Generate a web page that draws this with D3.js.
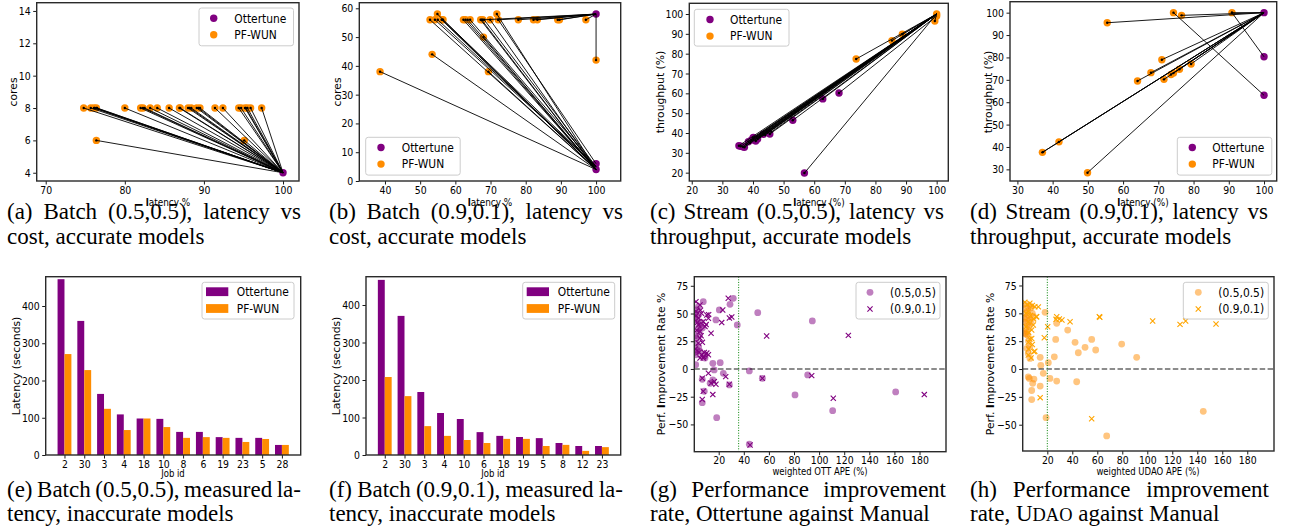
<!DOCTYPE html>
<html><head><meta charset="utf-8">
<script src="https://cdn.jsdelivr.net/npm/d3@7"></script>
<style>body{margin:0;background:#fff}svg{display:block}</style>
</head><body>
<svg id="c" width="1291" height="527"></svg>
<script>
// ---------------- DATA ----------------
// (a) Batch (0.5,0.5): latency % vs cores
const aOttLatency = [100];
const aOttCores = [4];
const aPfLatency = [74.8,75.7,76.1,76.4,80.0,82.0,82.3,83.2,84.1,85.6,86.9,87.0,88.0,88.4,89.1,89.5,91.4,92.4,94.4,94.7,95.2,95.5,95.9,97.3,76.4,95.1];
const aPfCores   = [8,8,8,8,8,8,8,8,8,8,8,8,8,8,8,8,8,8,8,8,8,8,8,8,6,6];
const aLinkFromLatency = [74.8,75.7,76.1,76.4,76.2,76.5,80.0,82.0,82.3,82.5,83.2,84.1,85.6,86.9,87.0,88.0,88.2,88.4,89.1,89.3,89.5,91.4,92.4,94.4,94.7,95.2,95.3,95.5,95.9,97.3,76.4,95.1];
const aLinkFromCores   = [8,8,8,8,8,8,8,8,8,8,8,8,8,8,8,8,8,8,8,8,8,8,8,8,8,8,8,8,8,8,6,6];
const aLinkToLatency = [100,100,100,100,100,100,100,100,100,100,100,100,100,100,100,100,100,100,100,100,100,100,100,100,100,100,100,100,100,100,100,100];
const aLinkToCores   = [4,4,4,4,4,4,4,4,4,4,4,4,4,4,4,4,4,4,4,4,4,4,4,4,4,4,4,4,4,4,4,4];

// (b) Batch (0.9,0.1): latency % vs cores
const bOttLatency = [100,100,100];
const bOttCores = [58,6,4];
const bPfLatency = [38.6,53.4,52.8,54.2,54.9,56.1,56.5,62.3,62.9,64.2,67.2,67.8,68.0,69.4,69.9,71.8,72.2,77.9,82.2,83.3,89.1,89.6,97.1,100];
const bPfCores   = [38,44,56,56,58,56,56,56,56,56,56,56,50,38,56,58,56,56,56,56,56,56,56,42];
const bLinkFromLatency = [38.6,53.4,52.8,54.2,54.9,56.1,56.5,62.3,62.9,64.2,67.2,67.8,68.0,69.4,69.9,71.8,72.2,77.9,82.2,83.3,89.1,89.6,97.1,100,67.5,68.2,72.2,56.3,55.0,63.5];
const bLinkFromCores   = [38,44,56,56,58,56,56,56,56,56,56,56,50,38,56,58,56,56,56,56,56,56,56,42,56,56,56,56,56,56];
const bLinkToLatency = [100,100,100,100,100,100,100,100,100,100,100,100,100,100,100,100,100,100,100,100,100,100,100,100,100,100,100,100,100,100];
const bLinkToCores   = [4,4,4,5,4,4,5,4,4,5,4,58,4,4,4,4,6,58,58,58,58,58,58,58,4,5,58,4,5,4];

// (c) Stream (0.5,0.5): latency (%) vs throughput (%)
const cOttLatency    = [35.4,36.7,38.5,40.1,40.9,43.4,44.8,45.5,53.0,62.8,68.1,56.8,37.2,39.5,36.0,41.5];
const cOttThroughput = [33.6,33.1,35.6,37.8,36.0,39.4,40.2,39.5,46.4,57.2,60.2,19.8,32.8,36.5,33.3,37.0];
const cPfLatency    = [73.7,85.4,88.8,99.4,100,100];
const cPfThroughput = [77.3,86.6,89.8,96.5,100,99];
const cLinkFromLatency    = [35.4,36.7,38.5,40.1,40.9,43.4,44.8,45.5,53.0,62.8,68.1,56.8,37.2,39.5,36.0,41.5,37.8,39.0,42.2,44.0,46.0,73.7,85.4,88.8,99.4];
const cLinkFromThroughput = [33.6,33.1,35.6,37.8,36.0,39.4,40.2,39.5,46.4,57.2,60.2,19.8,32.8,36.5,33.3,37.0,34.2,35.0,38.2,39.0,40.5,77.3,86.6,89.8,96.5];
const cLinkToLatency    = [100,100,100,100,100,100,100,100,100,100,100,100,100,100,100,100,100,100,100,100,100,100,100,100,100];
const cLinkToThroughput = [100,100,100,100,100,100,100,100,100,100,99,100,100,100,100,100,100,100,100,100,100,100,100,100,100];

// (d) Stream (0.9,0.1): latency (%) vs throughput (%)
const dOttLatency    = [100,100,100];
const dOttThroughput = [100,80.3,63.1];
const dPfLatency    = [55.5,74.3,76.6,90.9,71.0,67.9,64.1,71.6,73.6,74.3,76.0,79.3,37.1,41.8,49.9];
const dPfThroughput = [95.5,100,98.8,100,79.0,73.2,69.5,70.2,72.4,73.0,74.7,77.1,37.6,42.3,28.5];
const dLinkFromLatency    = [55.5,74.3,76.6,90.9,71.0,67.9,64.1,71.6,73.6,74.3,76.0,79.3,37.1,41.8,49.9,37.3,90.9];
const dLinkFromThroughput = [95.5,100,98.8,100,79.0,73.2,69.5,70.2,72.4,73.0,74.7,77.1,37.6,42.3,28.5,37.8,100];
const dLinkToLatency    = [100,100,100,100,100,100,100,100,100,100,100,100,100,100,100,100,100];
const dLinkToThroughput = [100,63.1,100,80.3,100,100,100,100,100,100,100,100,100,100,100,100,100];

// (e) Batch (0.5,0.5) measured latency
const eJobs = ["2","30","3","4","18","10","8","6","19","23","5","28"];
const eOttertune = [472,360,164,109,98,97,62,62,48,46,46,27];
const ePfWun     = [271,228,124,67,98,75,46,48,46,35,43,27];

// (f) Batch (0.9,0.1) measured latency
const fJobs = ["2","30","3","4","10","6","18","19","5","8","12","23"];
const fOttertune = [467,371,168,112,96,61,51,48,45,32,24,24];
const fPfWun     = [208,157,77,51,40,32,43,43,24,27,11,21];

// (g) Ottertune against Manual
const gApe55  = [7.7,31.6,29,20.5,17.8,34.8,51.1,94.6,21.2,15.3,1.7,16.4,23.7,44.4,28.5,15.3,13.2,6.9,6.9,8.5,18.4,44.4,54.8,90.9,80.8,110.8,161,2.6,9.1,2.6,3.8,2.6,5.1,3.8,1.9,5.1,1.9,9.1,3.8,1.5,1.2,1.5,2.0,6.0,4.5,1.0,7.0,4.0];
const gRate55 = [60.7,63.7,58.3,53.2,44.2,39.7,50.8,43.3,5.7,5.1,3.9,-0.9,-3.9,-1.8,-14.4,-9.9,-12.9,-9.3,-30.4,-20.1,-43.9,-67.9,-8.4,-5.4,-23.4,-37.6,-20.7,17.1,12,53.2,48.7,44.2,39.7,36.7,23.3,15.9,12.8,9.8,56.2,50,45,30,28,42,33,15,37,20];
const gApe91  = [27.6,23.2,22.4,30.4,28.5,13.9,58.2,123.3,11.8,6.9,13.9,16.5,17.8,25.6,28.5,7.7,15.3,6.9,54.8,94.1,111.3,183.8,45,1.9,5.1,6.3,10.5,11.8,7.7,3.8,9.1,5.1,5.1,3.8,10.5,6.3,11.8,7.7,5.1,8.5,2,4,2.5,6,1.5,3,7,8,4.5,2,10,5.5,12];
const gRate91 = [63.7,53.2,41.8,46.8,46,32.2,29.8,30.3,-3.9,-8.4,-12.9,-11.4,-13.8,-6.9,-13.8,-20.1,-23.1,-27.6,-8.4,-6,-26.4,-23.1,-68.6,60.7,57.7,50.2,48.7,45.8,42.8,39.7,38.2,33.8,27.8,23.3,14.3,12.8,12.8,9.8,9.8,14.9,52,46,35,30,18,42,24,11,15,48,40,53,49];
const gThreshold = [35.9];

// (h) UDAO against Manual
const hApe55  = [18.2,27.5,36.3,26.7,42.2,55.5,79.5,50.2,58.7,44.8,25.6,91.5,14.3,20.8,14.8,16.8,22.1,4.8,5.6,9.3,8.3,14.3,27.5,43.5,7.5,7.5,19,67.5,144.8,3.7,4.8,6.1,3.1,3.7,2,3,4,2.5,5,3.5,6,2,4,5.5,3,7,6,1.5,2,4.5,8,7,9,5,6];
const hRate55 = [50.9,41,35,26.6,24,26.6,22.4,19.5,17.1,14.6,11,10.5,10.5,5.7,3.3,-3.9,-8.4,-7.1,-8.4,-9,-12.8,-15.3,-10.8,-11.4,-19.3,-27.4,-43.7,-60.1,-38,18.6,14,9.5,31.2,33.6,58,55,52,50,48,46,44,42,40,38,36,55,57,45,32,30,50,42,47,25,20];
const hApe91  = [27.5,29.6,31.7,27,38.2,61.6,62,104.3,126.2,130.7,155,20.3,17.6,11.5,12.8,7.5,4.8,9.3,4.8,14.3,55.5,4.8,8.8,7.5,11.1,2,4,6,8,10,3,5,6.5,9,3,5,6,8,5,10,7];
const hRate91 = [47,44.9,44,44.6,42.5,47,46.5,43.1,40.1,43.1,40.4,38,28.1,47,55.8,27.4,24,15.6,12.6,-25.7,-44.6,42.5,39.5,35,47,60,58,59,57,56,50,52,48,45,38,33,27,22,18,16,10];
const hThreshold = [20];

// Tick values
const aXTicks = [70,80,90,100], aYTicks = [4,6,8,10,12,14];
const bXTicks = [40,50,60,70,80,90,100], bYTicks = [0,10,20,30,40,50,60];
const cXTicks = [20,30,40,50,60,70,80,90,100], cYTicks = [20,30,40,50,60,70,80,90,100];
const dXTicks = [30,40,50,60,70,80,90,100], dYTicks = [30,40,50,60,70,80,90,100];
const barYTicks = [0,100,200,300,400];
const ghXTicks = [20,40,60,80,100,120,140,160,180], ghYTicks = [-50,-25,0,25,50,75];

// ---------------- DRAWING ----------------
const PURPLE = '#800080', DORANGE = '#FF8C00', ORANGE = '#FFA500';
const SX = 0.85; // horizontal squeeze of figure text
const FONT = 'DejaVu Sans, sans-serif';
const svg = d3.select('#c');
let clipN = 0;

function htext(parent, x, y, str, size, anchor) {
  return parent.append('text').attr('transform', `translate(${x},${y}) scale(${SX},1)`)
    .attr('font-family', FONT).attr('font-size', size).attr('text-anchor', anchor || 'start').attr('fill', '#000').text(str);
}

function panel(p, x, y, xt, yt, xfmt) {
  const g = svg.append('g');
  const id = 'clip' + (clipN++);
  svg.append('clipPath').attr('id', id).append('rect')
    .attr('x', p.x0).attr('y', p.y0).attr('width', p.x1 - p.x0).attr('height', p.y1 - p.y0);
  const xa = g.append('g').attr('transform', `translate(0,${p.y1})`)
    .call(d3.axisBottom(x).tickValues(xt).tickSize(3.5).tickPadding(1.5).tickFormat(xfmt || d3.format('d')));
  const ya = g.append('g').attr('transform', `translate(${p.x0},0)`)
    .call(d3.axisLeft(y).tickValues(yt).tickSize(3.5).tickPadding(2.5).tickFormat(d3.format('d')));
  [xa, ya].forEach(a => {
    a.select('.domain').remove();
    a.attr('font-family', FONT).attr('font-size', 11);
    a.selectAll('line').attr('stroke', '#000').attr('stroke-width', 0.9);
    a.selectAll('text').attr('fill', '#000');
  });
  xa.selectAll('text').attr('transform', `scale(${SX},1)`);
  ya.selectAll('text').attr('x', -6 / SX).attr('transform', `scale(${SX},1)`);
  const plot = g.append('g').attr('clip-path', `url(#${id})`);
  return {g, plot, finish: () => g.append('rect').attr('x', p.x0).attr('y', p.y0)
    .attr('width', p.x1 - p.x0).attr('height', p.y1 - p.y0)
    .attr('fill', 'none').attr('stroke', '#2a2a2a').attr('stroke-width', 1.4)};
}

function ylabel(x, y, parts) {
  const t = svg.append('text').attr('transform', `translate(${x},${y}) rotate(-90)`)
    .attr('font-family', FONT).attr('font-size', 10.8).attr('text-anchor', 'middle').attr('dy', '0.35em');
  parts.forEach(([s, b]) => t.append('tspan').attr('font-weight', b ? 'bold' : null).text(s));
}
function xlabel(x, y, parts, size) {
  const t = svg.append('text').attr('transform', `translate(${x},${y}) scale(${SX},1)`)
    .attr('font-family', FONT).attr('font-size', size || 11).attr('text-anchor', 'middle');
  parts.forEach(([s, b]) => t.append('tspan').attr('font-weight', b ? 'bold' : null).text(s));
}

function legend(bx, by, bw, bh, items, mdx, tdx) {
  const g = svg.append('g');
  g.append('rect').attr('x', bx).attr('y', by).attr('width', bw).attr('height', bh).attr('rx', 2.5)
    .attr('fill', '#fff').attr('fill-opacity', 0.8).attr('stroke', '#cccccc').attr('stroke-width', 1);
  items.forEach(it => {
    const cy = by + it.dy;
    if (it.type === 'circle') g.append('circle').attr('cx', bx + mdx).attr('cy', cy).attr('r', it.r || 3.7)
      .attr('fill', it.color).attr('fill-opacity', it.op || 1);
    else if (it.type === 'rect') g.append('rect').attr('x', bx + 4).attr('y', cy - 4.4).attr('width', 22.3).attr('height', 8.8).attr('fill', it.color);
    else if (it.type === 'x') drawX(g, bx + mdx, cy, it.color, 2.6);
    htext(g, bx + tdx, cy + 4.3, it.label, 12.6);
  });
}

function drawX(g, cx, cy, color, s) {
  g.append('path').attr('d', `M${cx - s},${cy - s}L${cx + s},${cy + s}M${cx - s},${cy + s}L${cx + s},${cy - s}`)
    .attr('stroke', color).attr('stroke-width', 1.1).attr('fill', 'none');
}

function linkPanel(p, xd, yd, xt, yt, ott, pf, links) {
  const x = d3.scaleLinear().domain(xd).range([p.x0, p.x1]);
  const y = d3.scaleLinear().domain(yd).range([p.y1, p.y0]);
  const P = panel(p, x, y, xt, yt);
  P.plot.selectAll('circle.o').data(d3.range(ott[0].length)).join('circle')
    .attr('cx', i => x(ott[0][i])).attr('cy', i => y(ott[1][i])).attr('r', 3.7).attr('fill', PURPLE);
  P.plot.selectAll('circle.p').data(d3.range(pf[0].length)).join('circle')
    .attr('cx', i => x(pf[0][i])).attr('cy', i => y(pf[1][i])).attr('r', 3.7).attr('fill', DORANGE);
  const L = d3.range(links[0].length);
  P.plot.append('g').selectAll('line').data(L).join('line')
    .attr('x1', i => x(links[0][i])).attr('y1', i => y(links[1][i]))
    .attr('x2', i => x(links[2][i])).attr('y2', i => y(links[3][i]))
    .attr('stroke', '#000').attr('stroke-width', 0.9);
  P.plot.append('g').selectAll('circle').data(L).join('circle')
    .attr('cx', i => x(links[0][i])).attr('cy', i => y(links[1][i])).attr('r', 1.2).attr('fill', '#000');
  P.finish();
}

function barPanel(p, jobs, ott, pfw, ymax) {
  const x = d3.scaleLinear().domain([-0.95, jobs.length - 0.05]).range([p.x0, p.x1]);
  const y = d3.scaleLinear().domain([0, ymax]).range([p.y1, p.y0]);
  const P = panel(p, x, y, d3.range(jobs.length), barYTicks, i => jobs[i]);
  const w = 0.35;
  P.plot.selectAll('rect.o').data(ott).join('rect')
    .attr('x', (d, i) => x(i - w)).attr('width', (d, i) => x(i) - x(i - w))
    .attr('y', d => y(d)).attr('height', d => y(0) - y(d)).attr('fill', PURPLE);
  P.plot.selectAll('rect.p').data(pfw).join('rect')
    .attr('x', (d, i) => x(i)).attr('width', (d, i) => x(i + w) - x(i))
    .attr('y', d => y(d)).attr('height', d => y(0) - y(d)).attr('fill', DORANGE);
  P.finish();
}

function ratePanel(p, xd, yd, a55, r55, a91, r91, thr, col, circCol) {
  const x = d3.scaleLinear().domain(xd).range([p.x0, p.x1]);
  const y = d3.scaleLinear().domain(yd).range([p.y1, p.y0]);
  const P = panel(p, x, y, ghXTicks, ghYTicks);
  P.plot.selectAll('circle').data(d3.range(a55.length)).join('circle')
    .attr('cx', i => x(a55[i])).attr('cy', i => y(r55[i])).attr('r', 3.4)
    .attr('fill', circCol).attr('fill-opacity', 0.5);
  d3.range(a91.length).forEach(i => drawX(P.plot, x(a91[i]), y(r91[i]), col, 2.6));
  P.plot.append('line').attr('x1', p.x0).attr('x2', p.x1).attr('y1', y(0)).attr('y2', y(0))
    .attr('stroke', '#000').attr('stroke-opacity', 0.6).attr('stroke-width', 1.5).attr('stroke-dasharray', '5.5,2.4');
  P.plot.append('line').attr('x1', x(thr[0])).attr('x2', x(thr[0])).attr('y1', p.y0).attr('y2', p.y1)
    .attr('stroke', '#008000').attr('stroke-width', 1).attr('stroke-dasharray', '1,1.6');
  P.finish();
}

// Panels
const LA = {x0:36.7, x1:299, y0:2.7, y1:181};
const LB = {x0:359.3, x1:620.7, y0:2.7, y1:181};
const LC = {x0:689.3, x1:948.3, y0:3.3, y1:181};
const LD = {x0:1010, x1:1276.7, y0:1.7, y1:181};
const LE = {x0:45.7, x1:300.7, y0:276.7, y1:455};
const LF = {x0:366, x1:620.7, y0:276.7, y1:455};
const LG = {x0:694.3, x1:946, y0:276.7, y1:451.7};
const LH = {x0:1022.7, x1:1274, y0:276.7, y1:451};

linkPanel(LA, [68.86,102.02], [3.49,14.51], aXTicks, aYTicks, [aOttLatency,aOttCores], [aPfLatency,aPfCores],
  [aLinkFromLatency,aLinkFromCores,aLinkToLatency,aLinkToCores]);
linkPanel(LB, [32.7,107], [0,61.95], bXTicks, bYTicks, [bOttLatency,bOttCores], [bPfLatency,bPfCores],
  [bLinkFromLatency,bLinkFromCores,bLinkToLatency,bLinkToCores]);
linkPanel(LC, [19.2,103.8], [15.8,105.4], cXTicks, cYTicks, [cOttLatency,cOttThroughput], [cPfLatency,cPfThroughput],
  [cLinkFromLatency,cLinkFromThroughput,cLinkToLatency,cLinkToThroughput]);
linkPanel(LD, [27.9,103.6], [24.8,104.9], dXTicks, dYTicks, [dOttLatency,dOttThroughput], [dPfLatency,dPfThroughput],
  [dLinkFromLatency,dLinkFromThroughput,dLinkToLatency,dLinkToThroughput]);
barPanel(LE, eJobs, eOttertune, ePfWun, 478.7);
barPanel(LF, fJobs, fOttertune, fPfWun, 475.5);
ratePanel(LG, [0.56,201.1], [-74.6,83.2], gApe55, gRate55, gApe91, gRate91, gThreshold, PURPLE, PURPLE);
ratePanel(LH, [0.3,201.4], [-73.6,82.9], hApe55, hRate55, hApe91, hRate91, hThreshold, ORANGE, DORANGE);

// axis labels
ylabel(13.3, 92, [['cores']]);
ylabel(337.3, 92, [['cores']]);
ylabel(660, 92, [['throughput (%)']]);
ylabel(988.3, 92, [['throughput (%)']]);
ylabel(16, 366, [['Latency (seconds)']]);
ylabel(336.7, 366, [['Latency (seconds)']]);
ylabel(661.7, 364, [['Perf. '], ['I', true], ['mprovement Rate %']]);
ylabel(990.7, 364, [['Perf. '], ['I', true], ['mprovement Rate %']]);
xlabel(168, 206, [['l', true], ['atency %']], 10.5);
xlabel(490, 206, [['l', true], ['atency %']], 10.5);
xlabel(819, 206, [['l', true], ['atency (%)']], 10.5);
xlabel(1143, 206, [['l', true], ['atency (%)']], 10.5);
xlabel(173, 477, [['Job id']], 10);
xlabel(493, 477, [['Job id']], 10);
xlabel(820, 474.5, [['weighted OTT APE (%)']], 10);
xlabel(1148, 474.5, [['weighted UDAO APE (%)']], 10);

// legends
const dotItems = [{type:'circle', color:PURPLE, label:'Ottertune', dy:10.2}, {type:'circle', color:DORANGE, label:'PF-WUN', dy:26.8}];
legend(199, 8, 94.5, 37.8, dotItems, 14.7, 35.3);
legend(365.7, 137.3, 94.5, 37.8, dotItems, 15.3, 36);
legend(694.3, 9.3, 94.7, 36.8, dotItems, 15.7, 35.7);
legend(1177.3, 137.3, 94.5, 37.8, dotItems, 15, 35);
const barItems = [{type:'rect', color:PURPLE, label:'Ottertune', dy:9.4}, {type:'rect', color:DORANGE, label:'PF-WUN', dy:26.2}];
legend(202, 282.3, 92, 36.7, barItems, 0, 34.7);
legend(522.7, 282.3, 92, 36.7, barItems, 0, 35);
legend(856, 282.3, 84, 36.7, [{type:'circle', color:PURPLE, op:0.5, r:3.4, label:'(0.5,0.5)', dy:10}, {type:'x', color:PURPLE, label:'(0.9,0.1)', dy:26.7}], 14, 34);
legend(1183.3, 282.3, 85, 36.7, [{type:'circle', color:DORANGE, op:0.5, r:3.4, label:'(0.5,0.5)', dy:10}, {type:'x', color:ORANGE, label:'(0.9,0.1)', dy:26.7}], 15, 35);

// captions (justified first line)
const CAP = 23;
function justify(x0, width, y, words) {
  const g = svg.append('g').attr('font-family', 'Liberation Serif, Times New Roman, serif').attr('font-size', CAP);
  const nodes = words.map(w => g.append('text').attr('y', y).text(w));
  const ws = nodes.map(n => n.node().getComputedTextLength());
  const gap = (width - d3.sum(ws)) / (words.length - 1);
  let x = x0;
  nodes.forEach((n, i) => { n.attr('x', x); x += ws[i] + gap; });
}
function plain(x0, y, parts) {
  const t = svg.append('text').attr('x', x0).attr('y', y)
    .attr('font-family', 'Liberation Serif, Times New Roman, serif').attr('font-size', CAP);
  parts.forEach(([s, sz]) => t.append('tspan').attr('font-size', sz || null).text(s));
}
const colX = [7, 329, 650, 970], colW = 294;
justify(colX[0], colW, 219, ['(a)','Batch','(0.5,0.5),','latency','vs']);
plain(colX[0], 244, [['cost, accurate models']]);
justify(colX[1], colW, 219, ['(b)','Batch','(0.9,0.1),','latency','vs']);
plain(colX[1], 244, [['cost, accurate models']]);
justify(colX[2], colW, 219, ['(c)','Stream','(0.5,0.5),','latency','vs']);
plain(colX[2], 244, [['throughput, accurate models']]);
justify(colX[3], colW + 4, 219, ['(d)','Stream','(0.9,0.1),','latency','vs']);
plain(colX[3], 244, [['throughput, accurate models']]);
justify(colX[0], colW, 497, ['(e)','Batch','(0.5,0.5),','measured','la-']);
plain(colX[0], 521, [['tency, inaccurate models']]);
justify(colX[1], colW, 497, ['(f)','Batch','(0.9,0.1),','measured','la-']);
plain(colX[1], 521, [['tency, inaccurate models']]);
justify(colX[2], colW + 2, 497, ['(g)','Performance','improvement']);
plain(colX[2], 521, [['rate, Ottertune against Manual']]);
justify(colX[3], colW + 5, 497, ['(h)','Performance','improvement']);
plain(colX[3], 521, [['rate, U'], ['DAO', 18.4], [' against Manual']]);
</script>
</body></html>
